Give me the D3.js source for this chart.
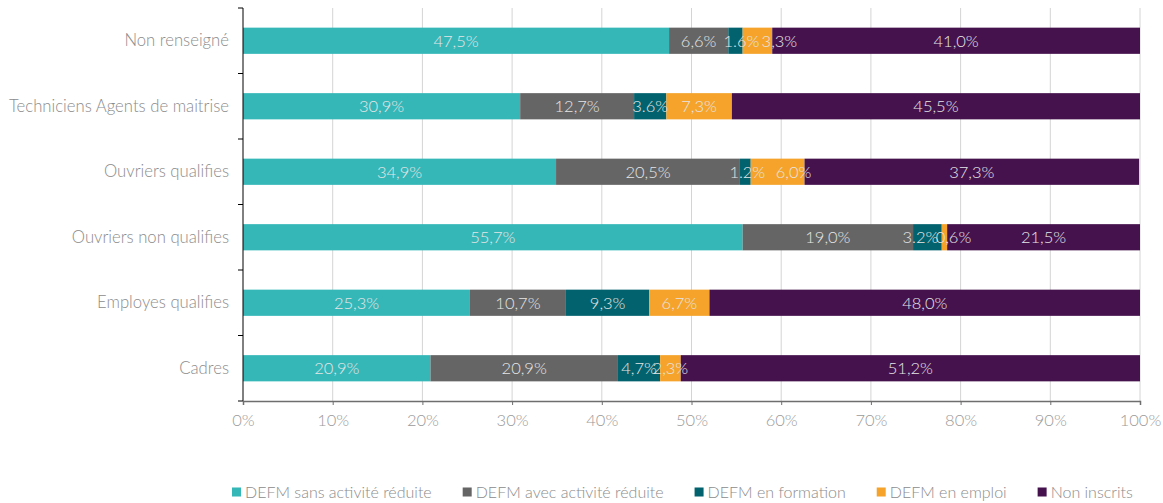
<!DOCTYPE html>
<html>
<head>
<meta charset="utf-8">
<script src="https://cdn.jsdelivr.net/npm/d3@7"></script>
<style>
  html, body { margin: 0; padding: 0; background: #fff; }
  svg text { font-family: Lato, "Open Sans", sans-serif; font-weight: 300; }
</style>
</head>
<body>
<svg id="chart" width="1163" height="503"></svg>
<script>
// Categories, top to bottom
const categories = [
  "Non renseigné",
  "Techniciens Agents de maitrise",
  "Ouvriers qualifies",
  "Ouvriers non qualifies",
  "Employes qualifies",
  "Cadres"
];

const seriesNames = [
  "DEFM sans activité réduite",
  "DEFM avec activité réduite",
  "DEFM en formation",
  "DEFM en emploi",
  "Non inscrits"
];

// Shares (%) per category, one array per series
const sansActivite = [47.5, 30.9, 34.9, 55.7, 25.3, 20.9];
const avecActivite = [6.6, 12.7, 20.5, 19.0, 10.7, 20.9];
const enFormation  = [1.6, 3.6, 1.2, 3.2, 9.3, 4.7];
const enEmploi     = [3.3, 7.3, 6.0, 0.6, 6.7, 2.3];
const nonInscrits  = [41.0, 45.5, 37.3, 21.5, 48.0, 51.2];

// Printed labels as they appear on the bars
const labelsSans   = ["47,5%", "30,9%", "34,9%", "55,7%", "25,3%", "20,9%"];
const labelsAvec   = ["6,6%", "12,7%", "20,5%", "19,0%", "10,7%", "20,9%"];
const labelsForm   = ["1.6%", "3.6%", "1.2%", "3.2%", "9,3%", "4,7%"];
const labelsEmploi = ["3,3%", "7,3%", "6,0%", "0,6%", "6,7%", "2,3%"];
const labelsNon    = ["41,0%", "45,5%", "37,3%", "21,5%", "48,0%", "51,2%"];

const xTicks = [0, 10, 20, 30, 40, 50, 60, 70, 80, 90, 100];
const colors = ["#35B7B8", "#656565", "#02626D", "#F5A32B", "#45124E"];

const seriesValues = [sansActivite, avecActivite, enFormation, enEmploi, nonInscrits];
const seriesLabels = [labelsSans, labelsAvec, labelsForm, labelsEmploi, labelsNon];

// Horizontal nudges (px) for labels on narrow segments, keyed "category|series"
const labelNudge = {
  "0|2": 6, "0|3": 22,
  "2|2": 2, "2|3": 16,
  "3|2": -7, "3|3": 9
};

const svg = d3.select("#chart");
const margin = { left: 243, right: 23, top: 8, bottom: 102 };
const W = 1163, H = 503;

const x = d3.scaleLinear().domain([0, 100]).range([margin.left, W - margin.right]);
const y = d3.scaleBand().domain(categories).range([margin.top, H - margin.bottom])
  .paddingInner(0.6).paddingOuter(0.3);

// Vertical gridlines
svg.append("g").selectAll("line").data(xTicks.slice(1)).join("line")
  .attr("x1", d => x(d)).attr("x2", d => x(d))
  .attr("y1", margin.top).attr("y2", H - margin.bottom)
  .attr("stroke", "#d4d4d4").attr("stroke-width", 1);

// Stacked segments
const rows = categories.map((c, i) => {
  let acc = 0;
  return seriesValues.map((vals, s) => {
    const seg = { cat: c, ci: i, s, x0: acc, x1: acc + vals[i], label: seriesLabels[s][i] };
    acc += vals[i];
    return seg;
  });
}).flat();

svg.append("g").selectAll("rect").data(rows).join("rect")
  .attr("x", d => x(d.x0))
  .attr("width", d => x(d.x1) - x(d.x0))
  .attr("y", d => y(d.cat))
  .attr("height", y.bandwidth())
  .attr("fill", d => colors[d.s]);

svg.append("g").selectAll("text").data(rows).join("text")
  .attr("x", d => (x(d.x0) + x(d.x1)) / 2 + (labelNudge[d.ci + "|" + d.s] || 0))
  .attr("y", d => y(d.cat) + y.bandwidth() / 2)
  .attr("dy", "0.36em")
  .attr("text-anchor", "middle")
  .attr("font-size", 16.5)
  .attr("fill", "#e6e6e6")
  .text(d => d.label);

// Y axis
const yAxis = svg.append("g")
  .attr("transform", `translate(${margin.left},0)`)
  .call(d3.axisLeft(y).tickSize(0).tickPadding(14));
yAxis.select(".domain").attr("stroke", "#000").attr("d", `M0,${margin.top}V${H - margin.bottom}`);
yAxis.selectAll("text").attr("font-size", 16.7).attr("fill", "#8c8c8c")
  .style("font-family", "Lato, 'Open Sans', sans-serif").style("font-weight", 300);
// Band boundary ticks
const bounds = d3.range(categories.length + 1).map(i => margin.top + i * (H - margin.top - margin.bottom) / categories.length);
yAxis.append("g").selectAll("line").data(bounds).join("line")
  .attr("x1", -5).attr("x2", 0).attr("y1", d => d).attr("y2", d => d)
  .attr("stroke", "#000");

// X axis
const xAxis = svg.append("g")
  .attr("transform", `translate(0,${H - margin.bottom})`)
  .call(d3.axisBottom(x).tickValues(xTicks).tickFormat(d => d + "%").tickSize(4).tickPadding(9));
xAxis.select(".domain").attr("stroke", "#6e6e6e").attr("stroke-width", 1.5);
xAxis.selectAll(".tick line").attr("stroke", "#6e6e6e");
xAxis.selectAll("text").attr("font-size", 16.5).attr("fill", "#9a9a9a")
  .style("font-family", "Lato, 'Open Sans', sans-serif").style("font-weight", 300);

// Legend
const legend = svg.append("g");
const lg = legend.selectAll("g").data(seriesNames).join("g");
lg.append("rect").attr("width", 9).attr("height", 9).attr("y", -4.5)
  .attr("fill", (d, i) => colors[i]);
lg.append("text").attr("x", 13).attr("dy", "0.36em").attr("font-size", 16)
  .attr("fill", "#8c8c8c").text(d => d);
let lx = 232;
lg.each(function() {
  const w = this.getBBox().width;
  d3.select(this).attr("transform", `translate(${lx},492)`);
  lx += w + 31;
});
</script>
</body>
</html>
